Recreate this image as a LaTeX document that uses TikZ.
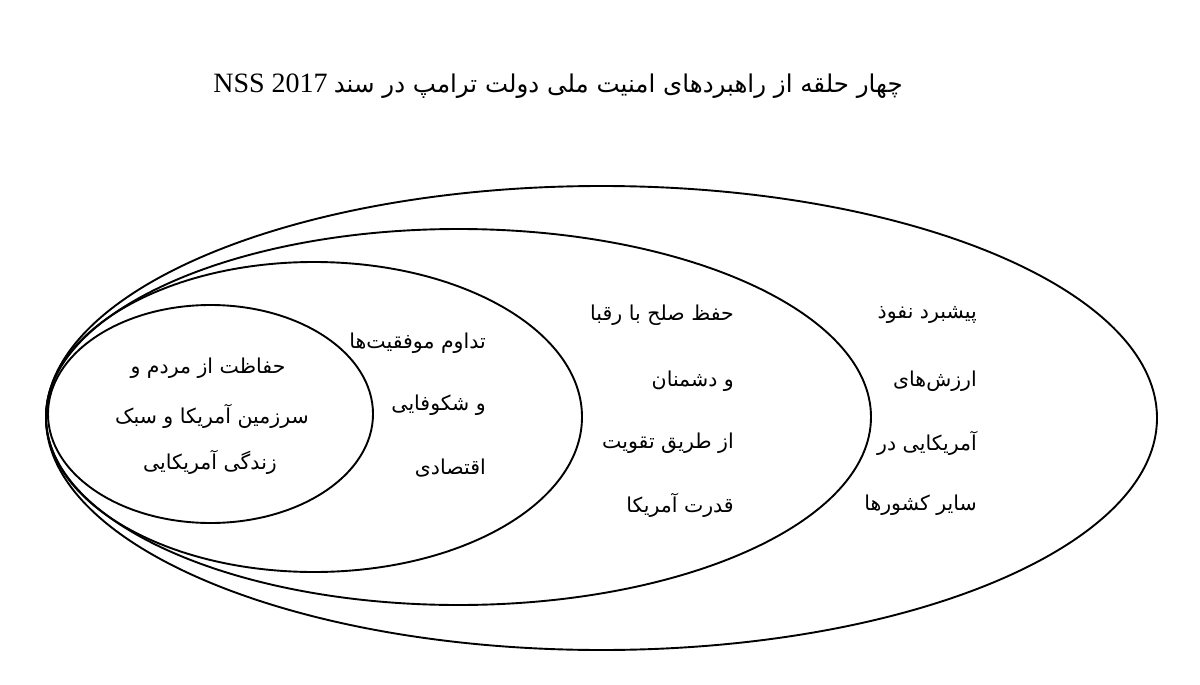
\documentclass[tikz,border=0pt]{standalone}
\usepackage{fontspec}
\setmainfont{Liberation Serif}
\newfontfamily\arabicfont[Script=Arabic]{DejaVu Sans}
\TeXXeTstate=1
\begin{document}
\begin{tikzpicture}[x=1pt,y=-1pt,
  ring/.style={draw=black, line width=1.9pt},
  lbl/.style={inner sep=0pt, font=\arabicfont\fontsize{20.5}{24}\selectfont},
  rlbl/.style={lbl, anchor=east}]
\useasboundingbox (0,0) rectangle (1200,685);
\fill[white] (0,0) rectangle (1200,685);
% title
\node[inner sep=0pt, font=\fontsize{24.5}{30}\selectfont] (title) at (558,86)
  {\beginR{\arabicfont چهار حلقه از راهبردهای امنیت ملی دولت ترامپ در سند}\ \beginL\fontsize{28}{30}\selectfont NSS 2017\endL\endR};
% rings
\draw[ring] (601.5,418) ellipse [x radius=555.5, y radius=232];
\draw[ring] (458.5,417) ellipse [x radius=412.5, y radius=188];
\draw[ring] (314,417) ellipse [x radius=268, y radius=155];
\draw[ring] (210.5,414) ellipse [x radius=162.5, y radius=109];
% inner texts
\node[lbl] (a1) at (208,368) {\beginR حفاظت از مردم و\endR};
\node[lbl] (a2) at (212,416) {\beginR سرزمین آمریکا و سبک\endR};
\node[lbl] (a3) at (210,462) {\beginR زندگی آمریکایی\endR};
% third ring
\node[rlbl] (b1) at (486,343) {\beginR تداوم موفقیت‌ها\endR};
\node[rlbl] (b2) at (486,405) {\beginR و شکوفایی\endR};
\node[rlbl] (b3) at (486,468) {\beginR اقتصادی\endR};
% second ring
\node[rlbl] (c1) at (734,315) {\beginR حفظ صلح با رقبا\endR};
\node[rlbl] (c2) at (734,381) {\beginR و دشمنان\endR};
\node[rlbl] (c3) at (734,443) {\beginR از طریق تقویت\endR};
\node[rlbl] (c4) at (734,505) {\beginR قدرت آمریکا\endR};
% outer ring
\node[rlbl] (d1) at (977,315) {\beginR پیشبرد نفوذ\endR};
\node[rlbl] (d2) at (977,381) {\beginR ارزش‌های\endR};
\node[rlbl] (d3) at (977,443) {\beginR آمریکایی در\endR};
\node[rlbl] (d4) at (977,505) {\beginR سایر کشورها\endR};
\end{tikzpicture}
\end{document}
